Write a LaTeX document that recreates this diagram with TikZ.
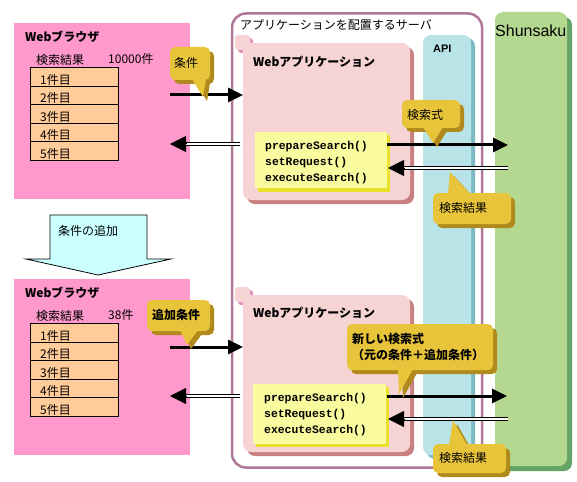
\documentclass[tikz,border=0pt]{standalone}
\usepackage{fontspec}
\setmainfont{Noto Sans CJK JP}
\newfontfamily\codefont{Liberation Mono}
\newfontfamily\shunfont{Liberation Sans}
\usetikzlibrary{arrows.meta,calc}
\definecolor{brpink}{HTML}{FF99CC}
\definecolor{cellfill}{HTML}{FFCC99}
\definecolor{srvline}{HTML}{B07898}
\definecolor{appfill}{HTML}{F7D4D4}
\definecolor{appshadow}{HTML}{C88080}
\definecolor{tabdark}{HTML}{DD90B8}
\definecolor{apifill}{HTML}{B8E4E8}
\definecolor{apishadow}{HTML}{7DBAC4}
\definecolor{shunfill}{HTML}{B4D890}
\definecolor{shunshadow}{HTML}{64A464}
\definecolor{calfill}{HTML}{E8C43A}
\definecolor{calshadow}{HTML}{B08A1C}
\definecolor{codefill}{HTML}{FAFA9E}
\definecolor{codeshadow}{HTML}{E8E02A}
\definecolor{downfill}{HTML}{CCFFFF}
\newcommand\callout[9]{%
  \begin{scope}[shift={(4,4)}]
    \fill[calshadow,rounded corners=5] (#1,#2) rectangle (#3,#4);
    \fill[calshadow] (#5,#6) -- (#8,#9) -- (#7,#6) -- cycle;
  \end{scope}
  \fill[calfill,rounded corners=5] (#1,#2) rectangle (#3,#4);
  \fill[calfill] (#5,#6) -- (#8,#9) -- (#7,#6) -- cycle;}
\begin{document}
\begin{tikzpicture}[x=1pt,y=-1pt,
  txt/.style={inner sep=0pt,anchor=west,font=\fontsize{12}{15}\selectfont},
  btxt/.style={inner sep=0pt,anchor=west,font=\fontsize{12}{16}\selectfont\bfseries},
  codetxt/.style={inner sep=0pt,anchor=west,align=left,font=\codefont\bfseries\fontsize{11.4}{16}\selectfont},
  cell/.style={draw=black,line width=1pt,fill=cellfill,anchor=north west,minimum width=88pt,minimum height=18.6pt,inner sep=0pt},
  browser/.style={fill=brpink,anchor=north west,minimum width=176pt,minimum height=176pt,inner sep=0pt},
  sarrow/.style={line width=3pt,-{Triangle[length=15pt,width=14pt]}},
  dline/.style={double,double distance=2pt,line width=1pt,shorten >=14pt},
  dhead/.style={line width=1pt,-{Triangle[length=16pt,width=16pt]}}
]
\useasboundingbox (0,0) rectangle (577,481);
\fill[white] (0,0) rectangle (577,481);

% ---------- browsers ----------
\node[browser] (br1) at (14,23) {};
\node[browser] (br2) at (14,279) {};
\node[btxt] (br1t) at (25,37) {Webブラウザ};
\node[btxt] (br2t) at (25,293) {Webブラウザ};
\node[txt] (res1) at (36,60) {検索結果};
\node[txt] (cnt1) at (108,59) {10000件};
\node[txt] (res2) at (36,316) {検索結果};
\node[txt] (cnt2) at (108,315) {38件};
\foreach \i in {1,...,5}{
  \node[cell] (ta\i) at (30,{67+(\i-1)*18.6}) {};
  \node[txt] (la\i) at (40,{67+(\i-1)*18.6+12.5}) {\i{}件目};
  \node[cell] (tb\i) at (30,{323+(\i-1)*18.6}) {};
  \node[txt] (lb\i) at (40,{323+(\i-1)*18.6+12.5}) {\i{}件目};
}

% ---------- down arrow ----------
\filldraw[fill=downfill,draw=black,line width=0.8pt] (50,215) -- (147,215) -- (147,259) -- (171,259) -- (98,275) -- (26,259) -- (50,259) -- cycle;
\node[txt] (addc) at (58,231) {条件の追加};

% ---------- server ----------
\draw[srvline,line width=2.5pt,rounded corners=14] (232,13.5) rectangle (482,467.5);
\node[txt] (srvt) at (240,25) {アプリケーションを配置するサーバ};

% ---------- web applications ----------
\foreach \oy in {0,252}{
  \fill[tabdark,rounded corners=3] (238,{38+\oy}) rectangle (253,{53+\oy});
  \fill[appfill,rounded corners=3] (235,{35+\oy}) rectangle (250,{50+\oy});
  \fill[appshadow,rounded corners=8] (247,{47+\oy}) rectangle (414,{204+\oy});
  \fill[appfill,rounded corners=8] (243,{43+\oy}) rectangle (410,{200+\oy});
}
\node[btxt] (app1t) at (253,62) {Webアプリケーション};
\node[btxt] (app2t) at (253,313) {Webアプリケーション};

% ---------- API ----------
\fill[apishadow,rounded corners=8] (427,38) rectangle (475,459);
\fill[apifill,rounded corners=8] (423,35) rectangle (471,455);
\node[btxt,font=\fontsize{11}{13}\selectfont\bfseries\shunfont] (apit) at (433,49) {API};

% ---------- Shunsaku ----------
\fill[shunshadow,rounded corners=8] (499,17) rectangle (572,471);
\fill[shunfill,rounded corners=8] (495,12) rectangle (567,466);
\node[inner sep=0pt,anchor=west,font=\shunfont\fontsize{16}{18}\selectfont] (shunt) at (495,31) {Shunsaku};

% ---------- code boxes ----------
\fill[codeshadow] (258,135) rectangle (390,192);
\fill[codefill] (255,132) rectangle (387,188);
\fill[codeshadow] (256,387) rectangle (389,447);
\fill[codefill] (253,384) rectangle (386,444);
\node[codetxt] (code1) at (265,163) {prepareSearch()\\setRequest()\\executeSearch()};
\node[codetxt] (code2) at (264,414.5) {prepareSearch()\\setRequest()\\executeSearch()};

% ---------- connector end points ----------
\coordinate (b1s) at (170,95);   \coordinate (a1s) at (243,95);
\coordinate (a1d) at (240,144);  \coordinate (b1d) at (170,144);
\coordinate (b2s) at (170,347);  \coordinate (a2s) at (243,347);
\coordinate (a2d) at (240,396);  \coordinate (b2d) at (170,396);
\coordinate (c1s) at (387,145);  \coordinate (s1s) at (508,145);
\coordinate (s1d) at (508,168);  \coordinate (c1d) at (388,168);
\coordinate (c2s) at (387,396);  \coordinate (s2s) at (507,396);
\coordinate (s2d) at (508,419);  \coordinate (c2d) at (388,419);

\draw[sarrow] (b1s) -- (a1s);
\draw[sarrow] (b2s) -- (a2s);
\draw[sarrow] (c1s) -- (s1s);
\draw[sarrow] (c2s) -- (s2s);
\foreach \f/\t in {a1d/b1d,a2d/b2d,s1d/c1d,s2d/c2d}{
  \draw[dline] (\f) -- (\t);
  \draw[dhead] ($(\t)+(17,0)$) -- (\t);
}

% ---------- callouts ----------
\callout{170}{47}{210}{80}{192}{79}{206}{203}{97}
\node[txt] (cal1) at (174,63) {条件};
\callout{402}{100}{460}{128}{423}{127}{443}{433}{143}
\node[txt] (cal2) at (407,115) {検索式};
\callout{433}{193}{511}{224}{448}{194}{470}{450}{172}
\node[txt] (cal3) at (439,208) {検索結果};
\callout{147}{300}{210}{331}{180}{330}{198}{187}{345}
\node[btxt] (cal4) at (152,315) {追加条件};
\callout{347}{324}{493}{370}{398}{369}{413}{399}{394}
\node[btxt,align=left] (cal5) at (352,347) {新しい検索式\\（元の条件＋追加条件）};
\callout{433}{444}{506}{473}{449}{445}{467}{453}{420}
\node[txt] (cal6) at (439,458) {検索結果};
\end{tikzpicture}
\end{document}
